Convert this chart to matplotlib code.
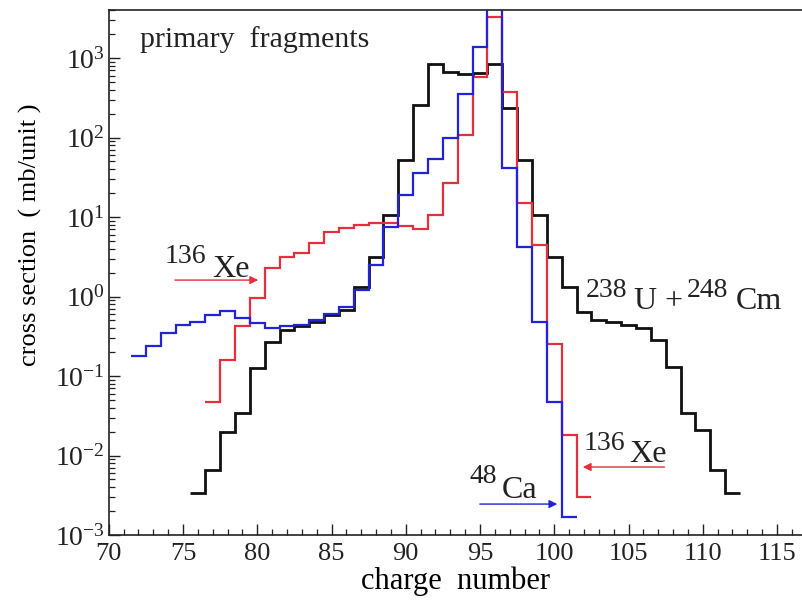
import matplotlib
matplotlib.use("Agg")
import matplotlib.pyplot as plt
import numpy as np
from matplotlib.ticker import LogLocator, MultipleLocator, NullFormatter

# ---------------- data ----------------
# 238U + 248Cm (black), Z = 76..112
z_black_start = 76
black_vals = [0.0034, 0.0066, 0.020, 0.034, 0.126, 0.27, 0.38, 0.42, 0.48, 0.59,
              0.68, 1.3, 3.1, 10.6, 52, 257, 840, 665, 630, 650,
              840, 235, 52, 10.7, 3.1, 1.3, 0.63, 0.50, 0.48, 0.44,
              0.40, 0.28, 0.13, 0.034, 0.021, 0.0066, 0.0034]
# 48Ca (blue), Z = 72..101
z_blue_start = 72
blue_vals = [0.18, 0.24, 0.35, 0.44, 0.48, 0.59, 0.66, 0.54, 0.46, 0.40,
             0.42, 0.44, 0.50, 0.61, 0.73, 1.2, 2.5, 7.4, 19, 36,
             54, 98, 350, 1380, 5000, 41, 4.2, 0.48, 0.047, 0.0017]
# 136Xe (red), Z = 77..102
z_red_start = 77
red_vals = [0.047, 0.16, 0.42, 0.96, 2.3, 3.1, 3.5, 4.7, 6.5, 7.3,
            8.0, 8.4, 8.5, 7.7, 7.0, 10.6, 27, 107, 575, 3300,
            375, 15, 4.4, 0.25, 0.018, 0.003]

x_ticks = [70, 75, 80, 85, 90, 95, 100, 105, 110, 115]

plt.rcParams['font.family'] = ['Liberation Serif', 'DejaVu Serif']
plt.rcParams['mathtext.fontset'] = 'custom'
plt.rcParams['mathtext.rm'] = 'Liberation Serif'
plt.rcParams['mathtext.it'] = 'Liberation Serif:italic'
plt.rcParams['mathtext.bf'] = 'Liberation Serif:bold'

fig = plt.figure(figsize=(8.02, 6.03), dpi=100)
W, H = 802, 603
ax = fig.add_axes([108.75 / W, (H - 535) / H, (802 - 108.75) / W, 525 / H])


def edges(start, vals):
    return np.arange(start - 0.5, start + len(vals) + 0.5, 1.0)


ax.stairs(black_vals, edges(z_black_start, black_vals), color='#111111', lw=2.0, baseline=None)
ax.stairs(red_vals, edges(z_red_start, red_vals), color='#e62e3d', lw=1.6, baseline=None)
ax.stairs(blue_vals, edges(z_blue_start, blue_vals), color='#2222dd', lw=1.6, baseline=None)

ax.set_yscale('log')
ax.set_xlim(70, 116.68)
ax.set_ylim(1e-3, 4020)

ax.set_xticks(x_ticks)
ax.xaxis.set_minor_locator(MultipleLocator(1))
ax.yaxis.set_major_locator(LogLocator(base=10, numticks=20))
ax.yaxis.set_minor_locator(LogLocator(base=10, subs=np.arange(2, 10), numticks=20))
ax.yaxis.set_minor_formatter(NullFormatter())

ax.tick_params(which='both', direction='in', top=False, right=False, colors='#222222')
ax.tick_params(which='major', length=8, width=1.0)
ax.tick_params(which='minor', length=4, width=0.9)
ax.tick_params(axis='x', which='major', pad=6, labelsize=19)
ax.tick_params(axis='y', which='major', pad=3, labelsize=20)

for s in ['left', 'bottom', 'top']:
    ax.spines[s].set_linewidth(1.2)
    ax.spines[s].set_color('#222222')
ax.spines['right'].set_visible(False)

ax.set_xlabel('charge  number', fontsize=22, va='top')
ax.xaxis.set_label_coords(0.5, -0.060)
ax.set_ylabel('cross section  ( mb/unit )', fontsize=19, va='center')
ax.yaxis.set_label_coords(-0.113, 0.571)

ax.text(0.045, 0.9295, 'primary  fragments', transform=ax.transAxes,
        fontsize=21.5, ha='left', va='baseline', color='#222222')

txt = '#222222'
sup = 20
main = 23
# left 136Xe
ax.text(73.75, 2.64, '136', fontsize=sup, ha='left', va='baseline', color=txt)
ax.text(77.0, 1.76, 'Xe', fontsize=main, ha='left', va='baseline', color=txt)
ax.annotate('', xy=(80.25, 1.61), xytext=(74.27, 1.61),
            arrowprops=dict(arrowstyle='-|>', color='#e62e3d', lw=1.0, mutation_scale=12))
# right 136Xe
ax.text(102.0, 0.0117, '136', fontsize=sup, ha='left', va='baseline', color=txt)
ax.text(105.05, 0.00828, 'Xe', fontsize=main, ha='left', va='baseline', color=txt)
ax.annotate('', xy=(101.73, 0.00716), xytext=(107.6, 0.00716),
            arrowprops=dict(arrowstyle='-|>', color='#e62e3d', lw=1.0, mutation_scale=12))
# 48Ca
ax.text(94.3, 0.00451, '48', fontsize=sup, ha='left', va='baseline', color=txt)
ax.text(96.45, 0.00292, 'Ca', fontsize=main, ha='left', va='baseline', color=txt)
ax.annotate('', xy=(100.39, 0.00245), xytext=(94.8, 0.00245),
            arrowprops=dict(arrowstyle='-|>', color='#2222dd', lw=1.0, mutation_scale=12))
# 238U + 248Cm
ax.text(102.15, 0.986, '238', fontsize=sup, ha='left', va='baseline', color=txt)
ax.text(105.4, 0.70, 'U +', fontsize=main, ha='left', va='baseline', color=txt)
ax.text(108.95, 0.986, '248', fontsize=sup, ha='left', va='baseline', color=txt)
ax.text(112.25, 0.70, 'Cm', fontsize=main, ha='left', va='baseline', color=txt)

fig.savefig('out.png', dpi=100)
